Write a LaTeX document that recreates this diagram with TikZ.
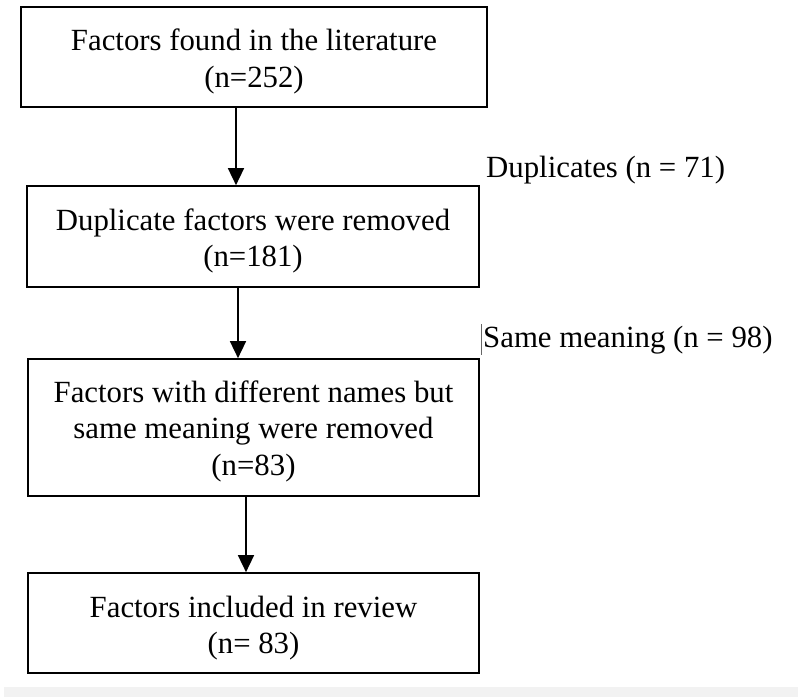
\documentclass[tikz,border=0pt]{standalone}
\usepackage{fontspec}
\setmainfont{Liberation Serif}
\usetikzlibrary{arrows.meta}
\newcommand{\firstline}{\rule{0pt}{31pt}}
\begin{document}
\begin{tikzpicture}[x=1pt,y=-1pt,
  box/.style={draw=black,line width=1.7pt,align=center,inner sep=0pt,
    font=\fontsize{30.8}{36.5}\selectfont},
  lbl/.style={inner sep=0pt,font=\fontsize{30.8}{36.5}\selectfont},
  arr/.style={line width=1.6pt,-{Triangle[length=17pt,width=16pt]}}]
\useasboundingbox (0,0) rectangle (798,697);
\fill[black!5] (4,687) rectangle (798,697);
\node[box,minimum width=466pt,minimum height=100pt] (b1) at (254,57)
  {\firstline Factors found in the literature\\(n=252)};
\node[box,minimum width=452pt,minimum height=101pt] (b2) at (253,236.5)
  {\firstline Duplicate factors were removed\\(n=181)};
\node[box,minimum width=451pt,minimum height=137pt] (b3) at (253.5,427.5)
  {\rule{0pt}{29pt}Factors with different names but\\same meaning were removed\\(n=83)};
\node[box,minimum width=451pt,minimum height=100pt] (b4) at (253.5,623)
  {\rule{0pt}{32pt}Factors included in review\\(n= 83)};
\draw[arr] (b1.south -| 236,0) -- (b2.north -| 236,0);
\draw[arr] (b2.south -| 238,0) -- (b3.north -| 238,0);
\draw[arr] (b3.south -| 246,0) -- (b4.north -| 246,0);
\node[lbl,anchor=base west] (dup) at (486,177) {Duplicates (n = 71)};
\node[lbl,anchor=base west] (same) at (483,347) {Same meaning (n = 98)};
\coordinate (c1) at (481,324);
\coordinate (c2) at (481,355);
\draw[black!60,line width=0.8pt] (c1) -- (c2);
\end{tikzpicture}
\end{document}
